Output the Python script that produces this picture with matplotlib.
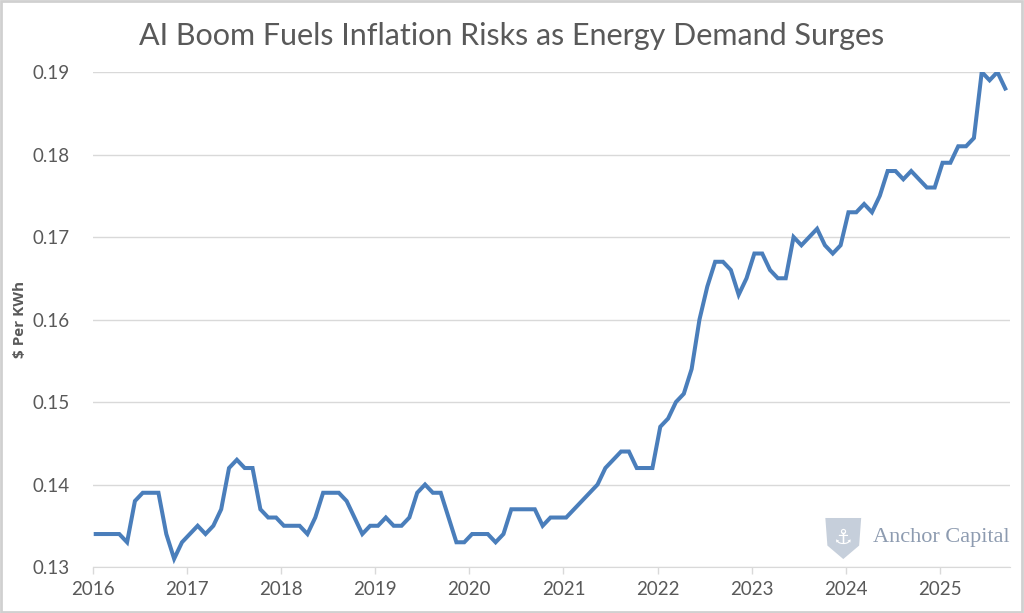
import numpy as np
import matplotlib.pyplot as plt
from matplotlib.patches import Rectangle, Polygon

# monthly $ per KWh, Jan 2016 - Sep 2025
price_2016 = [0.134, 0.134, 0.134, 0.134, 0.133, 0.138, 0.139, 0.139, 0.139, 0.134, 0.131, 0.133]
price_2017 = [0.134, 0.135, 0.134, 0.135, 0.137, 0.142, 0.143, 0.142, 0.142, 0.137, 0.136, 0.136]
price_2018 = [0.135, 0.135, 0.135, 0.134, 0.136, 0.139, 0.139, 0.139, 0.138, 0.136, 0.134, 0.135]
price_2019 = [0.135, 0.136, 0.135, 0.135, 0.136, 0.139, 0.140, 0.139, 0.139, 0.136, 0.133, 0.133]
price_2020 = [0.134, 0.134, 0.134, 0.133, 0.134, 0.137, 0.137, 0.137, 0.137, 0.135, 0.136, 0.136]
price_2021 = [0.136, 0.137, 0.138, 0.139, 0.140, 0.142, 0.143, 0.144, 0.144, 0.142, 0.142, 0.142]
price_2022 = [0.147, 0.148, 0.150, 0.151, 0.154, 0.160, 0.164, 0.167, 0.167, 0.166, 0.163, 0.165]
price_2023 = [0.168, 0.168, 0.166, 0.165, 0.165, 0.170, 0.169, 0.170, 0.171, 0.169, 0.168, 0.169]
price_2024 = [0.173, 0.173, 0.174, 0.173, 0.175, 0.178, 0.178, 0.177, 0.178, 0.177, 0.176, 0.176]
price_2025 = [0.179, 0.179, 0.181, 0.181, 0.182, 0.190, 0.189, 0.190, 0.188]

prices = (price_2016 + price_2017 + price_2018 + price_2019 + price_2020
          + price_2021 + price_2022 + price_2023 + price_2024 + price_2025)
years = list(range(2016, 2026))
y_ticks = [0.13, 0.14, 0.15, 0.16, 0.17, 0.18, 0.19]

plt.rcParams['font.family'] = ['Lato', 'DejaVu Sans']

fig = plt.figure(figsize=(10.24, 6.13), dpi=100)
ax = fig.add_axes([0.0908, 0.075, 0.8955, 0.8075])

months = np.arange(len(prices))
ax.plot(months, prices, color='#4a7ebb', linewidth=2.9, solid_joinstyle='miter')

offset = -0.35
ax.set_xlim(offset, 116.6)
ax.set_ylim(0.13, 0.19)
ax.set_xticks([12 * k + offset for k in range(len(years))])
ax.set_xticklabels([str(y) for y in years])
ax.set_yticks(y_ticks)
ax.set_yticklabels([f'{v:.2f}' for v in y_ticks])

ax.grid(axis='y', color='#d9d9d9', linewidth=1)
ax.set_axisbelow(True)
for side in ['top', 'right', 'left']:
    ax.spines[side].set_visible(False)
ax.spines['bottom'].set_color('#d9d9d9')
ax.tick_params(axis='x', colors='#d9d9d9', labelcolor='#595959', labelsize=13.5,
               length=5, width=1, pad=5)
ax.tick_params(axis='y', length=0, labelcolor='#595959', labelsize=13.5, pad=17)

ax.set_ylabel('$ Per KWh', fontsize=11, fontweight='bold', color='#595959',
              labelpad=4, family=['Open Sans', 'DejaVu Sans'])

fig.text(0.5, 0.942, 'AI Boom Fuels Inflation Risks as Energy Demand Surges',
         ha='center', va='center', fontsize=22, fontweight='normal', color='#595959')

# watermark
fig.text(0.853, 0.123, 'Anchor Capital', family='Liberation Serif', fontsize=16,
         color='#8d9bb0', ha='left', va='center')
shield = Polygon([[0.806, 0.155], [0.841, 0.155], [0.839, 0.11], [0.8235, 0.088],
                  [0.808, 0.11]], closed=True, transform=fig.transFigure,
                 facecolor='#b8c3d2', edgecolor='none', alpha=0.8)
fig.patches.append(shield)
fig.text(0.8235, 0.122, '\u2693', family='DejaVu Sans', fontsize=15, color='white',
         ha='center', va='center')

fig.patches.append(Rectangle((0.001, 0.002), 0.997, 0.996, transform=fig.transFigure,
                             fill=False, edgecolor='#d0d0d0', linewidth=2))

fig.savefig('out.png', dpi=100)
